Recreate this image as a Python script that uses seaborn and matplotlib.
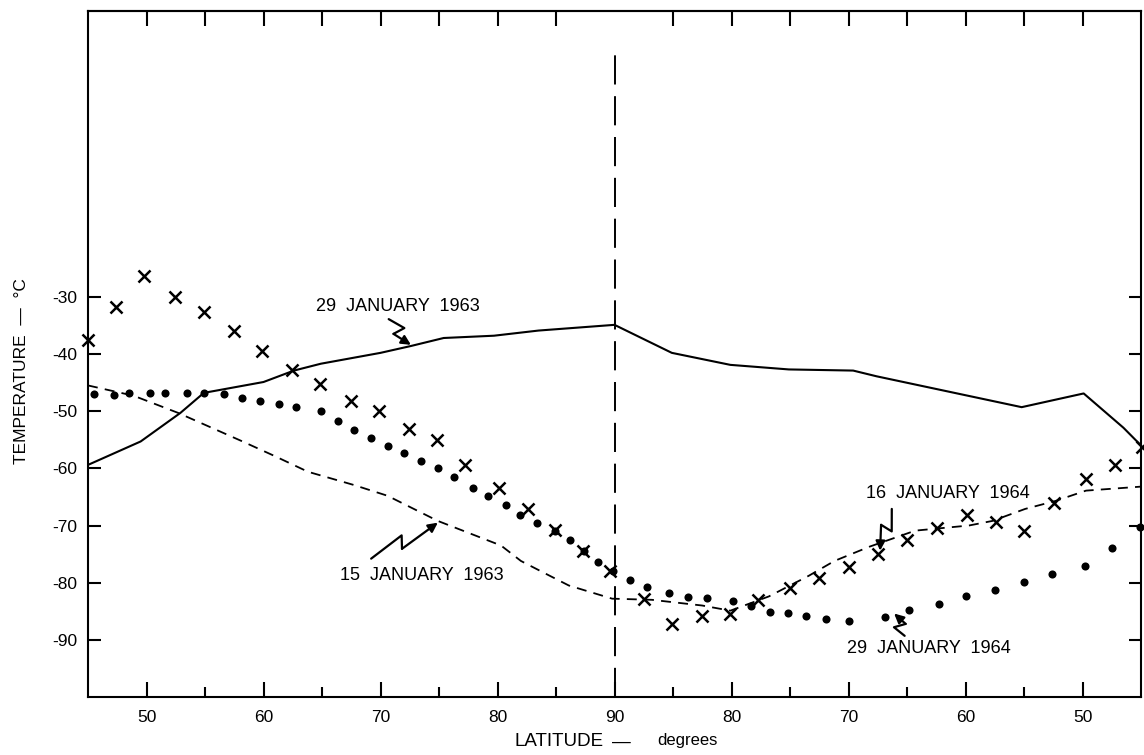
import numpy as np
import pandas as pd
import matplotlib
matplotlib.use("Agg")
import matplotlib.pyplot as plt
import seaborn as sns

# x positions run 45 -> 90 (pole) -> 135, right half is read as 180 - x
solid_pos = [45, 49.5, 52.9, 54.9, 60, 62.6, 64.9, 70, 72.6, 75.4, 79.7, 83.5, 90,
             94.9, 99.9, 104.9, 110.4, 112.4, 124.8, 130.1, 133.5, 135]
solid_temp = [-59.4, -55.3, -50.3, -46.8, -44.9, -42.9, -41.7, -39.8, -38.6, -37.2, -36.8, -35.9, -34.9,
              -39.8, -41.9, -42.7, -42.9, -43.9, -49.3, -46.9, -52.9, -56.0]

dash_pos = [45, 48.9, 52.7, 58.1, 60.9, 63.8, 67.7, 70.6, 74.9, 80.3, 82.0, 83.8, 86.1, 89.8,
            93.2, 97.5, 99.9, 103.2, 106.6, 108.8, 111.8, 115.7, 120.3, 122.3, 125.1, 127.7, 130.3, 135]
dash_temp = [-45.5, -47.3, -50.3, -55.2, -57.8, -60.6, -62.9, -64.8, -69.2, -73.5, -76.2, -78.1, -80.5, -82.8,
             -83.0, -84.0, -84.9, -82.4, -78.8, -76.2, -73.7, -70.9, -70.0, -69.2, -67.1, -65.7, -63.9, -63.2]

dot_pos = [45.5, 47.2, 48.5, 50.3, 51.6, 53.5, 54.9, 56.6, 58.2, 59.7, 61.3, 62.8, 64.9, 66.4, 67.7,
           69.2, 70.6, 72.0, 73.5, 74.9, 76.3, 77.9, 79.2, 80.7, 81.9, 83.4, 84.9, 86.2, 87.4, 88.6,
           89.9, 91.3, 92.8, 94.7, 96.3, 97.9, 100.1, 101.7, 103.3, 104.8, 106.4, 108.1, 110.0, 113.1,
           115.2, 117.7, 120.0, 122.5, 125.0, 127.4, 130.2, 132.5, 134.9]
dot_temp = [-47.0, -47.1, -46.8, -46.8, -46.8, -46.8, -46.8, -47.0, -47.7, -48.2, -48.7, -49.3, -50.0, -51.7, -53.3,
            -54.7, -56.1, -57.4, -58.8, -59.9, -61.6, -63.4, -64.8, -66.4, -68.1, -69.5, -70.9, -72.6, -74.4, -76.3,
            -78.0, -79.6, -80.7, -81.8, -82.5, -82.7, -83.2, -84.1, -85.1, -85.3, -85.8, -86.4, -86.7, -86.0,
            -84.8, -83.7, -82.3, -81.3, -79.9, -78.5, -77.1, -73.9, -70.2]

x_pos = [45, 47.4, 49.8, 52.4, 54.9, 57.5, 59.9, 62.4, 64.8, 67.5, 69.9, 72.4, 74.8, 77.2, 80.1, 82.6,
         84.9, 87.3, 89.6, 92.5, 94.9, 97.5, 99.9, 102.3, 105, 107.5, 110, 112.5, 115, 117.6, 120.1,
         122.6, 125, 127.6, 130.3, 132.8, 135.1]
x_temp = [-37.5, -31.8, -26.4, -30.0, -32.6, -35.9, -39.5, -42.8, -45.3, -48.3, -50.0, -53.2, -55.1, -59.5,
          -63.5, -67.2, -70.7, -74.5, -78.0, -82.8, -87.2, -85.8, -85.4, -83.0, -81.0, -79.1, -77.2, -74.9,
          -72.6, -70.5, -68.2, -69.4, -71.0, -66.0, -61.8, -59.5, -56.3]

xtick_pos = [50, 60, 70, 80, 90, 100, 110, 120, 130]
xtick_labels = ["50", "60", "70", "80", "90", "80", "70", "60", "50"]
ytick_pos = [-30, -40, -50, -60, -70, -80, -90]
ytick_labels = ["-30", "-40", "-50", "-60", "-70", "-80", "-90"]

# label text, text position, bolt start, bolt end
notes = [
    ("29  JANUARY  1963", (71.5, -31.7), (70.7, -33.9), (72.6, -38.4)),
    ("15  JANUARY  1963", (73.5, -78.8), (69.2, -75.8), (74.9, -69.5)),
    ("16  JANUARY  1964", (118.5, -64.4), (113.7, -67.1), (112.7, -74.4)),
    ("29  JANUARY  1964", (116.9, -91.5), (114.8, -89.3), (113.9, -85.4)),
]

sns.set_style("ticks")
plt.rcParams["font.family"] = ["Liberation Sans", "DejaVu Sans"]
plt.rcParams["text.color"] = "black"
plt.rcParams["xtick.color"] = "black"
plt.rcParams["ytick.color"] = "black"

fig = plt.figure(figsize=(11.44, 7.55), dpi=100)
ax = fig.add_axes([88 / 1144, 58 / 755, 1053 / 1144, 686 / 755])

sns.lineplot(x=solid_pos, y=solid_temp, color="black", lw=1.5, ax=ax)
sns.lineplot(x=dash_pos, y=dash_temp, color="black", lw=1.3, ax=ax)
ax.lines[-1].set_dashes((5.5, 4))
sns.scatterplot(x=dot_pos, y=dot_temp, color="black", s=34, linewidth=0, ax=ax, clip_on=False, zorder=4)
sns.scatterplot(x=x_pos, y=x_temp, color="black", marker="x", s=75, linewidth=1.8, ax=ax,
                clip_on=False, zorder=4)

ax.axvline(90, ymin=0, ymax=0.95, color="black", lw=1.4, dashes=(15, 6))

ax.set_xlim(45, 135)
ax.set_ylim(-100, 20)

ax.set_xticks(xtick_pos)
ax.set_xticklabels(xtick_labels, fontsize=12.5)
ax.set_xticks(np.arange(55, 130, 10), minor=True)
ax.set_yticks(ytick_pos)
ax.set_yticklabels(ytick_labels, fontsize=12.5)
ax.tick_params(axis="x", which="major", direction="in", length=11, width=1.5, pad=9, colors="black")
ax.tick_params(axis="x", which="minor", direction="in", length=7, width=1.5)
ax.tick_params(axis="y", direction="in", length=9, width=1.5, right=True, pad=8, colors="black")

top = ax.secondary_xaxis("top")
top.set_xticks([p for p in range(50, 135, 5) if p != 90])
top.set_xticklabels([])
top.tick_params(direction="in", length=11, width=1.5)

for side in ["left", "right", "top", "bottom"]:
    ax.spines[side].set_visible(True)
    ax.spines[side].set_linewidth(1.5)
    ax.spines[side].set_color("black")
top.spines["top"].set_linewidth(1.5)

ax.set_xlabel("")
ax.set_ylabel("")

# lightning-bolt style pointers
for text, tpos, start, end in notes:
    ax.text(tpos[0], tpos[1], text, fontsize=13, ha="center", va="center")
    p0 = ax.transData.transform(start)
    p1 = ax.transData.transform(end)
    d = p1 - p0
    n = np.array([-d[1], d[0]]) / np.hypot(*d)
    a = p0 + 0.5 * d + 6 * n
    b = p0 + 0.42 * d - 6 * n
    pts = ax.transData.inverted().transform(np.array([p0, a, b]))
    ax.plot(pts[:, 0], pts[:, 1], color="black", lw=1.6)
    ax.annotate("", xy=end, xytext=tuple(pts[-1]),
                arrowprops=dict(arrowstyle="-|>", color="black", lw=1.6, mutation_scale=14,
                                shrinkA=0, shrinkB=0))

fig.text(514 / 1144, 1 - 742 / 755, "LATITUDE", fontsize=13.5, ha="left", va="center")
fig.text(612 / 1144, 1 - 742 / 755, "\u2014", fontsize=13.5, ha="left", va="center")
fig.text(657 / 1144, 1 - 741 / 755, "degrees", fontsize=12, ha="left", va="center")
fig.text(22 / 1144, 1 - 371 / 755, "TEMPERATURE  \u2014  \u00b0C", fontsize=12.5, rotation=90,
         ha="center", va="center")

fig.savefig("out.png", dpi=100)
